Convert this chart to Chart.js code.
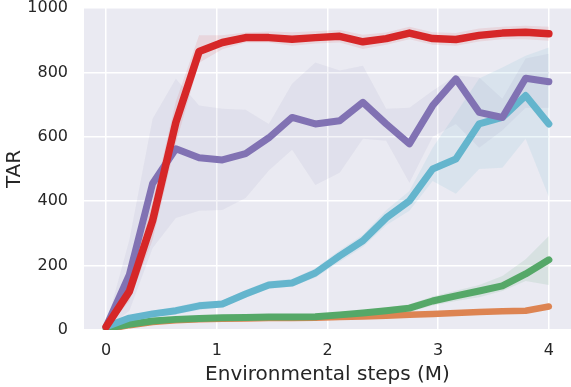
<!DOCTYPE html>
<html>
<head>
<meta charset="utf-8">
<script src="https://cdn.jsdelivr.net/npm/chart.js@4.4.1/dist/chart.umd.min.js"></script>
<style>
  body { margin: 0; background: #fff; }
  #wrap { width: 571px; height: 387px; position: relative; }
</style>
</head>
<body>
<div id="wrap"><canvas id="grafico"></canvas></div>
<script>
// passos (M) e valores
let passos = [0, 0.21, 0.42, 0.63, 0.84, 1.05, 1.26, 1.47, 1.68, 1.89, 2.11, 2.32, 2.53, 2.74, 2.95, 3.16, 3.37, 3.58, 3.79, 4.0]
let ticksX = [0, 1, 2, 3, 4]
let ticksY = [0, 200, 400, 600, 800, 1000]

let vermelho = [10, 120, 340, 645, 865, 893, 908, 908, 903, 908, 912, 895, 905, 922, 905, 902, 915, 922, 925, 920]
let vermelhoMin = [5, 90, 280, 580, 830, 872, 893, 893, 883, 890, 893, 873, 886, 903, 886, 883, 896, 903, 903, 898]
let vermelhoMax = [15, 150, 400, 710, 915, 915, 924, 927, 925, 928, 932, 917, 924, 942, 925, 922, 936, 942, 945, 942]

let roxo = [10, 172, 455, 563, 535, 528, 548, 597, 660, 640, 650, 707, 640, 578, 697, 780, 676, 660, 782, 771]
let roxoMin = [5, 60, 255, 348, 370, 373, 410, 495, 560, 450, 488, 594, 588, 457, 600, 640, 566, 620, 690, 690]
let roxoMax = [15, 280, 656, 780, 697, 687, 684, 640, 765, 831, 806, 821, 687, 690, 743, 790, 784, 718, 843, 858]

let ciano = [10, 37, 50, 60, 75, 81, 112, 140, 146, 177, 230, 277, 348, 401, 500, 531, 640, 660, 728, 640]
let cianoMin = [5, 28, 40, 48, 62, 70, 100, 128, 135, 162, 212, 258, 325, 370, 463, 423, 500, 504, 594, 413]
let cianoMax = [15, 46, 60, 72, 88, 92, 124, 152, 158, 192, 248, 296, 372, 432, 566, 672, 781, 815, 852, 877]

let verde = [5, 18, 28, 33, 36, 38, 39, 40, 40, 41, 47, 53, 60, 68, 90, 106, 121, 137, 174, 218]
let verdeMin = [3, 14, 23, 28, 31, 33, 34, 35, 35, 36, 40, 45, 50, 56, 76, 90, 102, 121, 152, 140]
let verdeMax = [7, 22, 33, 38, 41, 43, 44, 45, 46, 47, 54, 61, 70, 80, 104, 122, 140, 168, 220, 292]

let laranja = [2, 15, 25, 30, 33, 35, 36, 37, 37, 38, 40, 42, 44, 47, 50, 53, 56, 58, 60, 73]
let laranjaMin = [0, 12, 21, 26, 29, 31, 32, 33, 33, 34, 36, 38, 40, 43, 46, 49, 52, 54, 56, 68]
let laranjaMax = [4, 18, 29, 34, 37, 39, 40, 41, 41, 42, 44, 46, 48, 51, 54, 57, 60, 62, 64, 78]

function pontos(vals) {
    return vals.map((v, i) => ({ x: passos[i], y: v }))
}

function linha(vals, cor, larg) {
    return {
        data: pontos(vals),
        borderColor: cor,
        borderWidth: larg,
        borderCapStyle: 'round',
        borderJoinStyle: 'round',
        pointRadius: 0,
        tension: 0,
        fill: false
    }
}

function faixa(vals, cor, alvo) {
    return {
        data: pontos(vals),
        borderWidth: 0,
        borderColor: 'rgba(0,0,0,0)',
        backgroundColor: cor,
        pointRadius: 0,
        tension: 0,
        fill: alvo
    }
}

// fundo cinza do seaborn
const fundoPlot = {
    id: 'fundoPlot',
    beforeDraw(chart) {
        const { ctx, chartArea: a } = chart
        ctx.save()
        ctx.fillStyle = '#EAEAF2'
        ctx.fillRect(a.left, a.top, a.right - a.left, a.bottom - a.top)
        ctx.restore()
    }
}

let datasets = [
    linha(vermelho, '#D62728', 7.5),
    linha(roxo, '#8172B3', 7),
    linha(ciano, '#64B5CD', 7),
    linha(verde, '#55A868', 7),
    linha(laranja, '#DD8452', 6.5)
]
// faixas: max preenche até o min logo abaixo
let bandas = [
    [vermelhoMax, vermelhoMin, 'rgba(214,39,40,0.10)'],
    [roxoMax, roxoMin, 'rgba(110,110,170,0.08)'],
    [cianoMax, cianoMin, 'rgba(100,181,205,0.12)'],
    [verdeMax, verdeMin, 'rgba(85,168,104,0.12)'],
    [laranjaMax, laranjaMin, 'rgba(221,132,82,0.15)']
]
bandas.forEach(b => {
    datasets.push(faixa(b[0], b[2], '+1'))
    datasets.push(faixa(b[1], b[2], false))
})

Chart.defaults.font.family = 'DejaVu Sans'
Chart.defaults.color = '#262626'

new Chart(document.getElementById('grafico'), {
    type: 'line',
    data: { datasets: datasets },
    plugins: [fundoPlot],
    options: {
        responsive: true,
        maintainAspectRatio: false,
        animation: false,
        layout: { padding: { top: 8, right: 0, left: 0, bottom: 0 } },
        plugins: {
            legend: { display: false },
            tooltip: { enabled: false },
            filler: { drawTime: 'beforeDatasetsDraw' }
        },
        scales: {
            x: {
                type: 'linear',
                min: -0.2,
                max: 4.2,
                afterBuildTicks: s => { s.ticks = ticksX.map(v => ({ value: v })) },
                afterFit: s => { s.height = 57; s.paddingLeft = 0; s.paddingRight = 0 },
                grid: { color: '#fff', lineWidth: 1.5, drawTicks: false },
                border: { display: false },
                ticks: { font: { size: 16 }, padding: 11, callback: v => String(v) },
                title: { display: true, text: 'Environmental steps (M)', font: { size: 20 }, padding: { top: 0, bottom: 0 } }
            },
            y: {
                min: 0,
                max: 1000,
                afterBuildTicks: s => { s.ticks = ticksY.map(v => ({ value: v })) },
                afterFit: s => { s.width = 84; s.paddingTop = 0; s.paddingBottom = 0 },
                grid: { color: '#fff', lineWidth: 1.5, drawTicks: false },
                border: { display: false },
                ticks: { font: { size: 16 }, padding: 16, callback: v => String(v) },
                title: { display: true, text: 'TAR', font: { size: 20 }, padding: { top: 3, bottom: 0 } }
            }
        }
    }
})
</script>
</body>
</html>
